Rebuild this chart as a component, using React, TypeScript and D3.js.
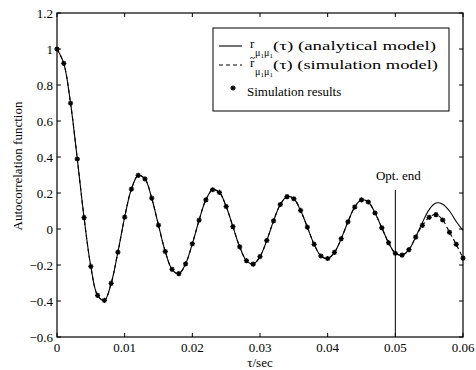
import React from "react";
import * as d3 from "d3";

const tauMs: number[] = Array.from({ length: 61 }, (_, i) => i);
const analytic: number[] = [
  1.0, 0.92, 0.699, 0.389, 0.063, -0.208, -0.369, -0.397, -0.302, -0.129,
  0.066, 0.222, 0.298, 0.278, 0.171, 0.021, -0.125, -0.224, -0.248, -0.194,
  -0.082, 0.049, 0.162, 0.218, 0.203, 0.125, 0.013, -0.099, -0.176, -0.195,
  -0.153, -0.064, 0.045, 0.136, 0.18, 0.168, 0.103, 0.01, -0.085, -0.15,
  -0.164, -0.13, -0.054, 0.04, 0.122, 0.162, 0.15, 0.089, 0.007, -0.076,
  -0.135, -0.145, -0.115, -0.045, 0.036, 0.108, 0.144, 0.138, 0.1, 0.042,
  -0.008,
];
const simTail: number[] = [-0.045, 0.02, 0.065, 0.08, 0.05, -0.018, -0.085, -0.162];
const simModel: number[] = [...analytic.slice(0, 53), ...simTail];
const simResults: number[] = simModel;
const yTicks: number[] = [-0.6, -0.4, -0.2, 0, 0.2, 0.4, 0.6, 0.8, 1, 1.2];
const xTicks: number[] = [0, 0.01, 0.02, 0.03, 0.04, 0.05, 0.06];
const optEnd = 0.05;

const W = 476;
const H = 370;
const L = 57, R = 463, T = 13, B = 337;
const font = "'Liberation Serif', 'Times New Roman', serif";

const fmt = (v: number) => {
  if (Math.abs(v) < 1e-9) return "0";
  const s = String(Math.round(v * 100) / 100);
  return s.replace("-", "\u2212");
};

export default function App() {
  const x = d3.scaleLinear().domain([0, 0.06]).range([L, R]);
  const y = d3.scaleLinear().domain([-0.6, 1.2]).range([B, T]);
  const line = d3
    .line<number>()
    .x((_, i) => x(tauMs[i] / 1000))
    .y((d) => y(d))
    .curve(d3.curveCatmullRom.alpha(0.5));
  const star = (cx: number, cy: number) => {
    const r = 2.6;
    const d = r * 0.7071;
    return `M${cx - r},${cy}L${cx + r},${cy}M${cx},${cy - r}L${cx},${cy + r}M${cx - d},${cy - d}L${cx + d},${cy + d}M${cx - d},${cy + d}L${cx + d},${cy - d}`;
  };
  const tl = 4;
  const rx = 250;
  const sub = (baseY: number) => (
    <>
      <text x={rx + 5} y={baseY + 8} fontSize={10}>μ</text>
      <text x={rx + 10.5} y={baseY + 10} fontSize={7}>1</text>
      <text x={rx + 14} y={baseY + 8} fontSize={10}>μ</text>
      <text x={rx + 19.5} y={baseY + 10} fontSize={7}>1</text>
    </>
  );
  const row1 = 50, row2 = 69, row3 = 96;
  return (
    <svg width={W} height={H} style={{ position: "absolute", left: 0, top: 0, background: "#fff" }} fontFamily={font}>
      <rect x={0} y={0} width={W} height={H} fill="#fff" />
      {/* curves */}
      <path d={line(analytic) || ""} fill="none" stroke="#000" strokeWidth={1.1} />
      <path d={line(simModel) || ""} fill="none" stroke="#000" strokeWidth={1.1} strokeDasharray="4,3" />
      {simResults.map((v, i) => (
        <path key={i} d={star(x(tauMs[i] / 1000), y(v))} stroke="#000" strokeWidth={1.3} />
      ))}
      {/* opt end */}
      <line x1={x(optEnd)} x2={x(optEnd)} y1={190} y2={B} stroke="#000" strokeWidth={1} />
      <text x={x(optEnd) + 3} y={180} fontSize={13} textAnchor="middle">Opt. end</text>
      {/* frame */}
      <rect x={L} y={T} width={R - L} height={B - T} fill="none" stroke="#000" strokeWidth={1.2} />
      {xTicks.map((t) => (
        <g key={"x" + t}>
          <line x1={x(t)} x2={x(t)} y1={B} y2={B - tl} stroke="#000" />
          <line x1={x(t)} x2={x(t)} y1={T} y2={T + tl} stroke="#000" />
          <text x={x(t)} y={352} fontSize={13} textAnchor="middle">{fmt(t)}</text>
        </g>
      ))}
      {yTicks.map((t) => (
        <g key={"y" + t}>
          <line x1={L} x2={L + tl} y1={y(t)} y2={y(t)} stroke="#000" />
          <line x1={R} x2={R - tl} y1={y(t)} y2={y(t)} stroke="#000" />
          <text x={53} y={y(t) + 4.5} fontSize={13} textAnchor="end">{fmt(t)}</text>
        </g>
      ))}
      <text x={(L + R) / 2} y={367} fontSize={13} textAnchor="middle">τ/sec</text>
      <text transform={`translate(22,166) rotate(-90)`} fontSize={13} textAnchor="middle">Autocorrelation function</text>
      {/* legend */}
      <rect x={213} y={28} width={236} height={83} fill="#fff" stroke="#000" strokeWidth={1} />
      <line x1={219} x2={242} y1={row1 - 4} y2={row1 - 4} stroke="#000" strokeWidth={1.1} />
      <text x={rx} y={row1 - 2} fontSize={13}>r</text>
      {sub(row1 - 2)}
      <text x={273} y={row1} fontSize={13} textLength={163} lengthAdjust="spacingAndGlyphs">(τ) (analytical model)</text>
      <line x1={219} x2={242} y1={row2 - 4} y2={row2 - 4} stroke="#000" strokeWidth={1.1} strokeDasharray="4,3" />
      <text x={rx} y={row2 - 2} fontSize={13}>r</text>
      <path d={`M${rx},${row2 - 10.5}q1.2,-1.8 2.5,-0.6t2.5,-0.6`} fill="none" stroke="#000" strokeWidth={0.8} />
      {sub(row2 - 2)}
      <text x={273} y={row2} fontSize={13} textLength={165} lengthAdjust="spacingAndGlyphs">(τ) (simulation model)</text>
      <path d={star(233, row3 - 8)} stroke="#000" strokeWidth={1.3} />
      <text x={247} y={row3} fontSize={13}>Simulation results</text>
    </svg>
  );
}
